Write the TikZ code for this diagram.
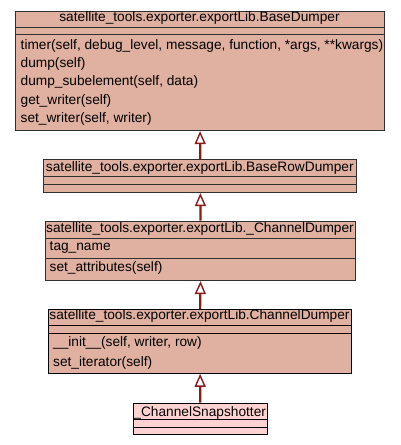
\documentclass[tikz,border=0pt]{standalone}
\usepackage{fontspec}
\newfontfamily\libsans{Liberation Sans}
\usetikzlibrary{arrows.meta}
\definecolor{clsfill}{HTML}{E0B0A0}
\definecolor{leaffill}{HTML}{FFD2D2}
\definecolor{bord}{HTML}{303030}
\definecolor{edge}{HTML}{8B1A1A}
\newcommand\umlfnt{\libsans\fontsize{13.7}{16}\selectfont}
\tikzset{
  cls/.style={draw=bord, fill=clsfill, line width=1.1pt, inner sep=0pt, anchor=north west},
  leaf/.style={cls, fill=leaffill, draw=black},
  txt/.style={font=\umlfnt, inner sep=0pt, anchor=base west},
  ttl/.style={font=\umlfnt, inner sep=0pt, anchor=base},
  inh/.style={draw=edge, line width=2.2pt, -{Triangle[open, width=11pt, length=13pt, line width=1.4pt]}},
}
\begin{document}
\begin{tikzpicture}[x=1pt,y=-1pt]
\useasboundingbox (0,0) rectangle (400,445);
% BaseDumper
\node[cls, minimum width=369pt, minimum height=16.2pt] (b1t) at (15,10.5) {};
\node[cls, minimum width=369pt, minimum height=7.3pt] (b1a) at (15,26.7) {};
\node[cls, minimum width=369pt, minimum height=96pt] (b1m) at (15,34) {};
\node[ttl] (b1n) at (199.5,21.7) {satellite\_tools.exporter.exportLib.BaseDumper};
\node[txt] (b1m1) at (20.5,49.3) {timer(self, debug\_level, message, function, *args, **kwargs)};
\node[txt] (b1m2) at (20.5,67.3) {dump(self)};
\node[txt] (b1m3) at (20.5,85.8) {dump\_subelement(self, data)};
\node[txt] (b1m4) at (20.5,104) {get\_writer(self)};
\node[txt] (b1m5) at (20.5,122.5) {set\_writer(self, writer)};
% BaseRowDumper
\node[cls, minimum width=313pt, minimum height=16.7pt] (b2t) at (43.3,159.3) {};
\node[cls, minimum width=313pt, minimum height=8pt] (b2a) at (43.3,176) {};
\node[cls, minimum width=313pt, minimum height=8pt] (b2m) at (43.3,184) {};
\node[ttl] (b2n) at (199.8,171.7) {satellite\_tools.exporter.exportLib.BaseRowDumper};
% _ChannelDumper
\node[cls, minimum width=310pt, minimum height=17.2pt] (b3t) at (45,220.5) {};
\node[cls, minimum width=310pt, minimum height=20.6pt] (b3a) at (45,237.7) {};
\node[cls, minimum width=310pt, minimum height=21.7pt] (b3m) at (45,258.3) {};
\node[ttl] (b3n) at (200,232.7) {satellite\_tools.exporter.exportLib.\_ChannelDumper};
\node[txt] (b3a1) at (49.5,250.7) {tag\_name};
\node[txt] (b3m1) at (49.5,271.7) {set\_attributes(self)};
% ChannelDumper
\node[cls, minimum width=302.5pt, minimum height=15.7pt, draw=black] (b4t) at (48.3,309.3) {};
\node[cls, minimum width=302.5pt, minimum height=8.3pt, draw=black] (b4a) at (48.3,325) {};
\node[cls, minimum width=302.5pt, minimum height=39.4pt, draw=black] (b4m) at (48.3,333.3) {};
\node[ttl] (b4n) at (199.5,319.3) {satellite\_tools.exporter.exportLib.ChannelDumper};
\node[txt] (b4m1) at (53,346.7) {\_\_init\_\_(self, writer, row)};
\node[txt] (b4m2) at (53,366) {set\_iterator(self)};
% _ChannelSnapshotter
\node[leaf, minimum width=134pt, minimum height=16.6pt] (b5t) at (132.7,402.7) {};
\node[leaf, minimum width=134pt, minimum height=7.4pt] (b5a) at (132.7,419.3) {};
\node[leaf, minimum width=134pt, minimum height=7.6pt] (b5m) at (132.7,426.7) {};
\node[ttl] (b5n) at (199.7,416) {\_ChannelSnapshotter};
% inheritance
\draw[inh] (b2t.north) -- (b1m.south);
\draw[inh] (b3t.north) -- (b2m.south);
\draw[inh] (b4t.north) -- (b3m.south);
\draw[inh] (b5t.north) -- (b4m.south);
\end{tikzpicture}
\end{document}
